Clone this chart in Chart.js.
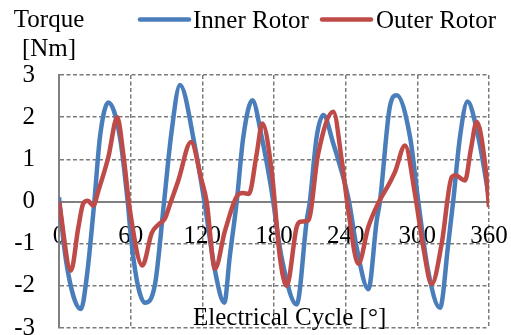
<!DOCTYPE html>
<html>
<head>
<meta charset="utf-8">
<script src="https://cdn.jsdelivr.net/npm/chart.js@4.4.1/dist/chart.umd.min.js"></script>
<style>
    html, body { margin: 0; padding: 0; background: #fff; }
    canvas { display: block; }
</style>
</head>
<body>
<canvas id="torqueChart" width="511" height="335"></canvas>
<script>
// Electrical angle [°] and torque [Nm]
const innerAngle = [0, 4, 7.8, 13.4, 18.4, 23.2, 29.6, 34.3, 41.3, 51,
    57.5, 60.8, 66.4, 72, 80.4, 88, 94, 101.3, 113.9, 121.7,
    130.6, 138.4, 143, 148.8, 154.3, 161.9, 169.7, 177.5, 186.4, 199,
    207.4, 210, 215.7, 221.3, 229.7, 239.4, 242.8, 249.2, 259, 266,
    268.7, 277, 282.7, 293.9, 300.8, 309, 319, 325.9, 330, 335.7,
    342, 351, 360];
const innerTorque = [0.1, -1.0, -1.72, -2.36, -2.55, -1.8, 0, 1.53, 2.35, 1.53,
    0, -1, -2.04, -2.4, -1.96, 0, 1.6, 2.76, 1.29, 0,
    -1.64, -2.4, -1.3, 0, 1.53, 2.4, 1.53, 0.34, -1.33, -2.44,
    -0.45, 0, 1.53, 2.05, 1.37, 0.42, 0, -1.09, -2.08, -0.45,
    0, 2.25, 2.52, 1.53, 0, -1.64, -2.52, -1, 0, 1.53,
    2.37, 1.53, 0.1];

const outerAngle = [0, 10, 16.2, 20.4, 24, 28.7, 32.9, 41.3, 48.8, 53.8,
    59.4, 69.8, 77.6, 83.1, 88.7, 93, 99.9, 110.5, 119.4, 123.6,
    130.6, 139, 150.7, 154, 159, 165.5, 170.2, 178, 185, 190.6,
    199, 202, 208.7, 217, 229.7, 236.7, 242.2, 250.6, 259, 267.3,
    277, 281.3, 289.7, 298, 305, 312, 320.4, 328.8, 332, 339.9,
    344.9, 349.7, 356.7, 360];
const outerTorque = [0, -1.64, -0.61, -0.04, 0.02, -0.1, 0.25, 1.05, 2.0, 1.13,
    -0.21, -1.52, -0.75, -0.55, -0.4, -0.06, 0.5, 1.41, 0.5, 0,
    -1.6, -0.69, 0.18, 0.2, 0.18, 1.13, 1.85, 0.74, -1.33, -2.0,
    -0.6, -0.48, -0.45, 1.13, 2.13, 0.98, -0.21, -1.48, -0.6, -0.04,
    0.45, 0.7, 1.33, 0.18, -1.09, -1.96, -1, 0.58, 0.62, 0.5,
    1.25, 1.89, 0.9, -0.13];

const seriesLabels = ['Inner Rotor', 'Outer Rotor'];
const xTitle = 'Electrical Cycle [°]';
const yTitle = ['Torque', '[Nm]'];

const FONT = '"Liberation Serif", "Times New Roman", serif';
const BLUE = '#4a7ebb';
const RED = '#be4b48';
const GRID = '#7a7a7a';
const AXIS = '#808080';

Chart.defaults.font.family = FONT;
Chart.defaults.font.size = 25;
Chart.defaults.color = '#000';

function toPoints(xs, ys) {
    return xs.map((x, i) => ({x: x, y: ys[i]}));
}

// axis titles and legend, drawn by hand so they sit where the original has them
const textPlugin = {
    id: 'texts',
    beforeDatasetsDraw(chart) {
        const ctx = chart.ctx;
        ctx.save();
        ctx.fillStyle = '#000';
        ctx.font = '25px ' + FONT;
        ctx.textBaseline = 'alphabetic';
        ctx.textAlign = 'center';
        ctx.fillText(yTitle[0], 49, 27);
        ctx.fillText(yTitle[1], 49, 56);
        ctx.textAlign = 'left';
        ctx.fillText(xTitle, 193, 325);
        ctx.restore();
    },
    afterDraw(chart) {
        const ctx = chart.ctx;
        const items = [
            {x1: 140, x2: 189, tx: 193},
            {x1: 322, x2: 371, tx: 376},
        ];
        ctx.save();
        ctx.font = '25px ' + FONT;
        ctx.textBaseline = 'alphabetic';
        ctx.textAlign = 'left';
        chart.data.datasets.forEach((ds) => {
            const it = items[seriesLabels.indexOf(ds.label)];
            ctx.strokeStyle = ds.borderColor;
            ctx.lineWidth = 4.5;
            ctx.lineCap = 'round';
            ctx.beginPath();
            ctx.moveTo(it.x1, 19.5);
            ctx.lineTo(it.x2, 19.5);
            ctx.stroke();
            ctx.fillStyle = '#000';
            ctx.fillText(ds.label, it.tx, 28);
        });
        ctx.restore();
    },
};

new Chart(document.getElementById('torqueChart'), {
    type: 'line',
    data: {
        datasets: [
            {
                label: seriesLabels[1],
                data: toPoints(outerAngle, outerTorque),
                borderColor: RED,
                borderWidth: 4.5,
                pointRadius: 0,
                cubicInterpolationMode: 'monotone',
                order: 1,
            },
            {
                label: seriesLabels[0],
                data: toPoints(innerAngle, innerTorque),
                borderColor: BLUE,
                borderWidth: 4.5,
                pointRadius: 0,
                cubicInterpolationMode: 'monotone',
                order: 2,
            },
        ],
    },
    options: {
        responsive: false,
        animation: false,
        layout: {padding: {left: 0, top: 75, right: 22, bottom: 7}},
        plugins: {
            legend: {display: false},
            tooltip: {enabled: false},
        },
        scales: {
            x: {
                type: 'linear',
                position: {y: 0},
                min: 0,
                max: 360,
                ticks: {stepSize: 60, padding: 20},
                grid: {color: GRID, lineWidth: 1.5, drawTicks: false},
                border: {display: true, color: AXIS, width: 2, dash: [4, 2.5]},
                afterFit(scale) {
                    scale.paddingLeft = 0;
                    scale.paddingRight = 0;
                },
            },
            y: {
                min: -3,
                max: 3,
                ticks: {stepSize: 1, padding: 24},
                grid: {color: GRID, lineWidth: 1.5, drawTicks: false},
                border: {display: true, color: AXIS, width: 2, dash: [4, 2.5]},
                afterFit(scale) {
                    scale.width = 59;
                    scale.paddingTop = 0;
                    scale.paddingBottom = 0;
                },
            },
        },
    },
    plugins: [textPlugin],
});
</script>
</body>
</html>
